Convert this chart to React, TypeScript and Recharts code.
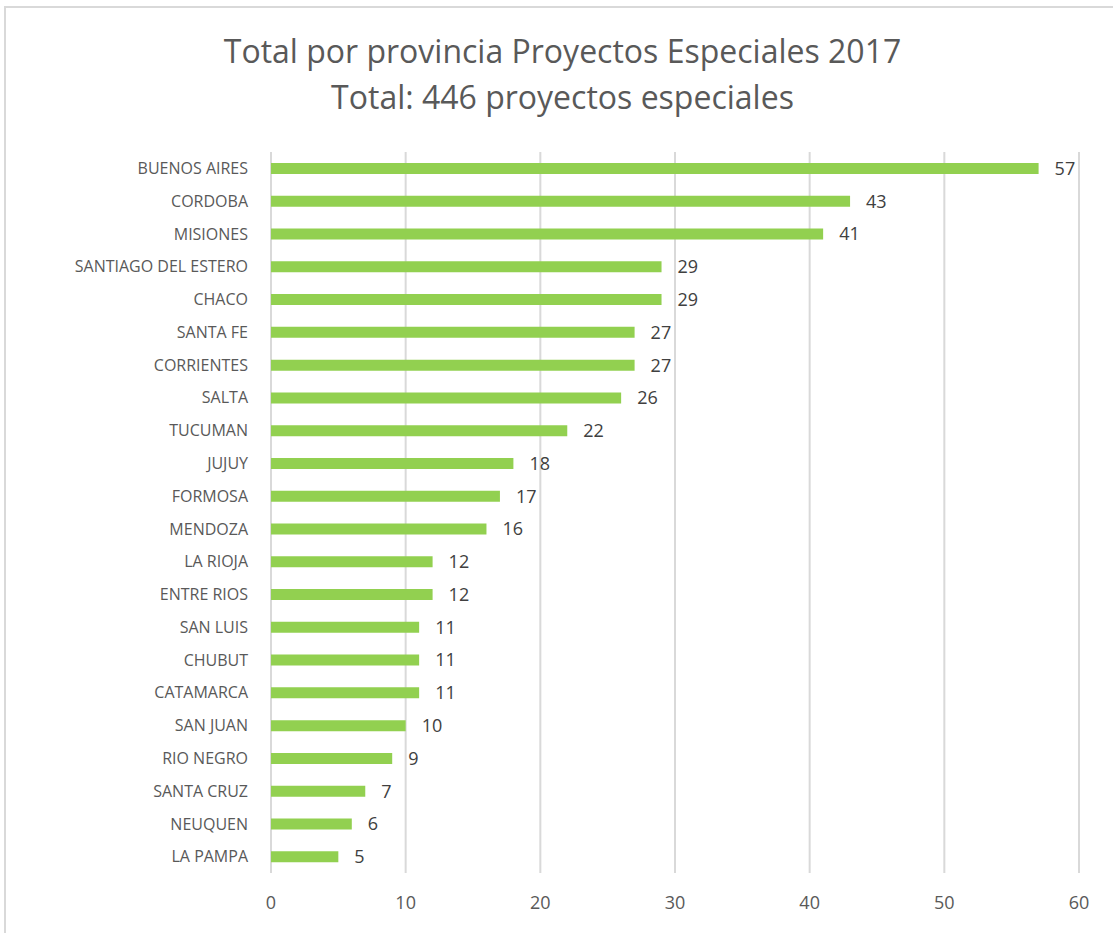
import React from "react";
import { BarChart, Bar, XAxis, YAxis, CartesianGrid, LabelList } from "recharts";

const provinces = [
  "BUENOS AIRES", "CORDOBA", "MISIONES", "SANTIAGO DEL ESTERO", "CHACO", "SANTA FE",
  "CORRIENTES", "SALTA", "TUCUMAN", "JUJUY", "FORMOSA", "MENDOZA", "LA RIOJA",
  "ENTRE RIOS", "SAN LUIS", "CHUBUT", "CATAMARCA", "SAN JUAN", "RIO NEGRO",
  "SANTA CRUZ", "NEUQUEN", "LA PAMPA",
];
const projects = [57, 43, 41, 29, 29, 27, 27, 26, 22, 18, 17, 16, 12, 12, 11, 11, 11, 10, 9, 7, 6, 5];
const xTicks = [0, 10, 20, 30, 40, 50, 60];
const titleLines = ["Total por provincia Proyectos Especiales 2017", "Total: 446 proyectos especiales"];

const data = provinces.map((p, i) => ({ name: p, value: projects[i] }));

const FONT = "'Open Sans', 'Noto Sans', sans-serif";

export default function App() {
  return (
    <div style={{ position: "absolute", left: 0, top: 0, width: 1113, height: 933, overflow: "hidden", background: "#fff", fontFamily: FONT }}>
      <div style={{ position: "absolute", left: 4, top: 6, width: 1200, height: 1000, borderTop: "2px solid #d9d9d9", borderLeft: "2px solid #d9d9d9" }} />
      <div style={{ position: "absolute", left: 0, top: 28, width: 1125, textAlign: "center", color: "#595959", fontSize: 32, lineHeight: "46px" }}>
        {titleLines.map((t) => (
          <div key={t}>{t}</div>
        ))}
      </div>
      <div style={{ position: "absolute", left: 0, top: 0 }}>
        <BarChart
          width={1113}
          height={933}
          data={data}
          layout="vertical"
          margin={{ top: 152, right: 34, bottom: 0, left: 0 }}
          barCategoryGap={0}
        >
          <CartesianGrid horizontal={false} vertical={true} stroke="#d9d9d9" strokeWidth={2} />
          <XAxis
            type="number"
            domain={[0, 60]}
            ticks={xTicks}
            axisLine={false}
            tickLine={false}
            tickSize={0}
            tickMargin={23}
            height={60}
            tick={{ fill: "#595959", fontSize: 18, fontFamily: FONT }}
          />
          <YAxis
            type="category"
            dataKey="name"
            width={271}
            axisLine={false}
            tickLine={false}
            tickSize={0}
            tickMargin={23}
            interval={0}
            tick={{ fill: "#595959", fontSize: 16, fontFamily: FONT }}
          />
          <Bar dataKey="value" fill="#92D050" barSize={11} isAnimationActive={false}>
            <LabelList dataKey="value" position="right" offset={16} fill="#404040" fontSize={18} fontFamily={FONT} />
          </Bar>
        </BarChart>
      </div>
    </div>
  );
}
